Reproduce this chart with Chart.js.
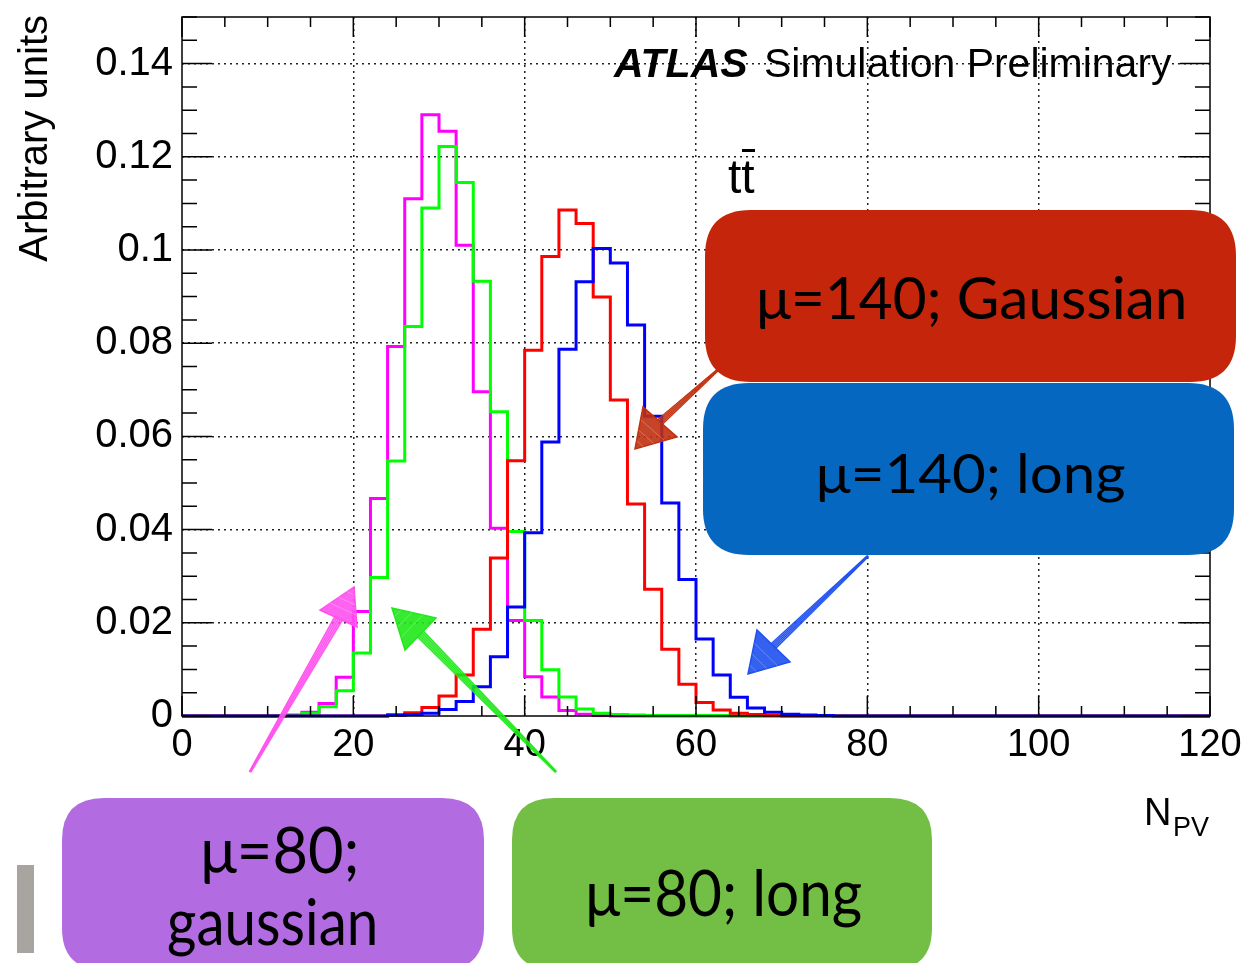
<!DOCTYPE html>
<html>
<head>
<meta charset="utf-8">
<title>N_PV</title>
<script src="https://cdn.jsdelivr.net/npm/chart.js@4.4.1/dist/chart.umd.min.js"></script>
<style>
  html, body { margin: 0; padding: 0; background: #fff; }
  canvas { display: block; }
</style>
</head>
<body>
<canvas id="npvChart" width="1247" height="963"></canvas>
<script>
// Histogrammen van N_PV, bins van 2 breed vanaf 0 tot 120
const binWidth = 2;

const mu80Gauss = [
  0, 0, 0, 0, 0, 0, 0.0002, 0.0008, 0.0027, 0.0083,
  0.0224, 0.0467, 0.0793, 0.111, 0.129, 0.1255, 0.101, 0.0696, 0.0403, 0.0205,
  0.0084, 0.0041, 0.0012, 0.0004, 0.0001, 0, 0, 0, 0, 0,
  0, 0, 0, 0, 0, 0, 0, 0, 0, 0,
  0, 0, 0, 0, 0, 0, 0, 0, 0, 0,
  0, 0, 0, 0, 0, 0, 0, 0, 0, 0
];
const mu80Long = [
  0, 0, 0, 0, 0, 0, 0.0001, 0.0006, 0.002, 0.0054,
  0.0135, 0.0297, 0.0547, 0.0836, 0.109, 0.1222, 0.1145, 0.0933, 0.0653, 0.0396,
  0.0205, 0.0099, 0.0041, 0.0015, 0.0006, 0.0003, 0.0002, 0.0001, 0.0001, 0.0001,
  0.0001, 0.0001, 0, 0, 0, 0, 0, 0, 0, 0,
  0, 0, 0, 0, 0, 0, 0, 0, 0, 0,
  0, 0, 0, 0, 0, 0, 0, 0, 0, 0
];
const mu140Gauss = [
  0, 0, 0, 0, 0, 0, 0, 0, 0, 0,
  0, 0, 0.0002, 0.0007, 0.0018, 0.0043, 0.0088, 0.0186, 0.0339, 0.0548,
  0.0785, 0.0986, 0.1086, 0.1057, 0.0899, 0.0678, 0.0455, 0.0272, 0.0143, 0.0068,
  0.0029, 0.0013, 0.0006, 0.0003, 0.0001, 0, 0, 0, 0, 0,
  0, 0, 0, 0, 0, 0, 0, 0, 0, 0,
  0, 0, 0, 0, 0, 0, 0, 0, 0, 0
];
const mu140Long = [
  0, 0, 0, 0, 0, 0, 0, 0, 0, 0,
  0, 0, 0.0002, 0.0003, 0.0006, 0.0014, 0.0031, 0.0063, 0.0127, 0.0234,
  0.0393, 0.0588, 0.0787, 0.0932, 0.1003, 0.0972, 0.0839, 0.0643, 0.0457, 0.0293,
  0.0165, 0.0088, 0.004, 0.0017, 0.0008, 0.0004, 0.0002, 0.0001, 0, 0,
  0, 0, 0, 0, 0, 0, 0, 0, 0, 0,
  0, 0, 0, 0, 0, 0, 0, 0, 0, 0
];

const xTicks = [0, 20, 40, 60, 80, 100, 120];
const yTicks = [0, 0.02, 0.04, 0.06, 0.08, 0.1, 0.12, 0.14];

// Punten op de linker binrand, laatste punt sluit de laatste bin af
function histPoints(values) {
  const pts = values.map((v, i) => ({ x: i * binWidth, y: v }));
  pts.push({ x: values.length * binWidth, y: values[values.length - 1] });
  return pts;
}

function histSet(label, values, color) {
  return {
    label: label,
    data: histPoints(values),
    borderColor: color,
    borderWidth: 3,
    stepped: 'before',
    pointRadius: 0,
    fill: false,
    clip: false
  };
}

// Tekst tussen twee x-randen passen (horizontaal geschaald)
function fitText(ctx, text, x0, x1, base, font) {
  ctx.save();
  ctx.font = font;
  ctx.textAlign = 'left';
  ctx.textBaseline = 'alphabetic';
  const m = ctx.measureText(text);
  const w = m.actualBoundingBoxLeft + m.actualBoundingBoxRight;
  ctx.translate(x0, base);
  ctx.scale((x1 - x0) / w, 1);
  ctx.fillText(text, m.actualBoundingBoxLeft, 0);
  ctx.restore();
}

function roundBox(ctx, x, y, w, h, r, color) {
  ctx.save();
  ctx.fillStyle = color;
  ctx.beginPath();
  ctx.moveTo(x + r, y);
  ctx.lineTo(x + w - r, y);
  ctx.quadraticCurveTo(x + w, y, x + w, y + r);
  ctx.lineTo(x + w, y + h - r);
  ctx.quadraticCurveTo(x + w, y + h, x + w - r, y + h);
  ctx.lineTo(x + r, y + h);
  ctx.quadraticCurveTo(x, y + h, x, y + h - r);
  ctx.lineTo(x, y + r);
  ctx.quadraticCurveTo(x, y, x + r, y);
  ctx.closePath();
  ctx.fill();
  ctx.restore();
}

// Geschetste pijl: taps toelopende schacht en een driehoekige punt
function sketchArrow(ctx, a) {
  const [tx, ty] = a.tail;
  const [p1, p2, tip] = a.head;
  const bx = (p1[0] + p2[0]) / 2, by = (p1[1] + p2[1]) / 2;
  const dx = bx - tx, dy = by - ty, len = Math.hypot(dx, dy);
  const nx = -dy / len, ny = dx / len;
  ctx.save();
  ctx.fillStyle = a.color;
  ctx.strokeStyle = a.color;
  ctx.globalAlpha = 0.75;
  ctx.beginPath();
  ctx.moveTo(tx + nx * 1.5, ty + ny * 1.5);
  ctx.lineTo(bx + nx * a.width, by + ny * a.width);
  ctx.lineTo(bx - nx * a.width, by - ny * a.width);
  ctx.lineTo(tx - nx * 1.5, ty - ny * 1.5);
  ctx.closePath();
  ctx.fill();
  ctx.globalAlpha = 1;
  ctx.lineWidth = 1;
  [-0.8, -0.4, 0, 0.4, 0.8].forEach(f => {
    ctx.beginPath();
    ctx.moveTo(tx + nx * f, ty + ny * f);
    ctx.lineTo(bx + nx * f * a.width, by + ny * f * a.width);
    ctx.stroke();
  });
  ctx.globalAlpha = 0.9;
  ctx.beginPath();
  ctx.moveTo(p1[0], p1[1]);
  ctx.lineTo(tip[0], tip[1]);
  ctx.lineTo(p2[0], p2[1]);
  ctx.closePath();
  ctx.fill();
  ctx.globalAlpha = 1;
  ctx.lineWidth = 1.5;
  ctx.stroke();
  ctx.globalAlpha = 0.25;
  ctx.strokeStyle = '#fff';
  ctx.lineWidth = 1;
  [0.3, 0.55, 0.8].forEach(f => {
    ctx.beginPath();
    ctx.moveTo(p1[0] + (tip[0] - p1[0]) * f, p1[1] + (tip[1] - p1[1]) * f);
    ctx.lineTo(p2[0] + (tip[0] - p2[0]) * f, p2[1] + (tip[1] - p2[1]) * f);
    ctx.stroke();
  });
  ctx.restore();
}

// Kader met ticks aan de binnenkant, zoals in ROOT
const kader = {
  id: 'kader',
  afterDatasetsDraw(chart) {
    const { ctx, chartArea: a, scales: { x, y } } = chart;
    ctx.save();
    ctx.strokeStyle = '#000';
    ctx.lineWidth = 1.5;
    ctx.beginPath();
    for (let v = 0; v <= 120; v += 5) {
      const px = x.getPixelForValue(v);
      const len = v % 20 === 0 ? 20 : 10;
      ctx.moveTo(px, a.bottom); ctx.lineTo(px, a.bottom - len);
      ctx.moveTo(px, a.top); ctx.lineTo(px, a.top + len);
    }
    for (let k = 0; k <= 30; k++) {
      const py = y.getPixelForValue(k * 0.005);
      const len = k % 4 === 0 ? 30 : 15;
      ctx.moveTo(a.left, py); ctx.lineTo(a.left + len, py);
      ctx.moveTo(a.right, py); ctx.lineTo(a.right - len, py);
    }
    ctx.stroke();
    ctx.strokeRect(a.left, a.top, a.right - a.left, a.bottom - a.top);
    ctx.restore();
  }
};

// Teksten, pijlen en gekleurde labels over de grafiek
const labels = {
  id: 'labels',
  afterDraw(chart) {
    const ctx = chart.ctx;
    ctx.save();
    ctx.fillStyle = '#000';
    ctx.textBaseline = 'alphabetic';

    ctx.font = 'italic bold 41px "Liberation Sans"';
    ctx.fillText('ATLAS', 614, 77);
    fitText(ctx, 'Simulation Preliminary', 765, 1172, 77, '41px "Liberation Sans"');

    ctx.font = '48px "Liberation Sans"';
    ctx.fillText('tt', 728, 193);
    ctx.fillRect(742, 149, 13, 3);

    ctx.font = '38px "Liberation Sans"';
    ctx.fillText('N', 1144, 825);
    ctx.font = '27px "Liberation Sans"';
    ctx.fillText('PV', 1173, 836);

    ctx.save();
    ctx.translate(47, 15);
    ctx.rotate(-Math.PI / 2);
    ctx.textAlign = 'right';
    ctx.font = '40px "Liberation Sans"';
    ctx.fillText('Arbitrary units', 0, 0);
    ctx.restore();

    sketchArrow(ctx, { tail: [250, 772], head: [[320, 610], [357, 627], [354, 587]], color: '#FF50EE', width: 5 });
    sketchArrow(ctx, { tail: [556, 772], head: [[436, 618], [405, 650], [392, 608]], color: '#20E81A', width: 5 });
    sketchArrow(ctx, { tail: [720, 368], head: [[643, 407], [677, 437], [635, 449]], color: '#C0300F', width: 4 });
    sketchArrow(ctx, { tail: [868, 556], head: [[757, 630], [790, 662], [748, 674]], color: '#1F50F0', width: 4 });

    roundBox(ctx, 705, 210, 531, 172, 46, '#C5250A');
    roundBox(ctx, 703, 383, 531, 172, 46, '#0567C0');
    roundBox(ctx, 62, 798, 422, 172, 42, '#B36BE1');
    roundBox(ctx, 512, 798, 420, 172, 42, '#73BE44');

    ctx.fillStyle = '#000';
    fitText(ctx, 'μ=140; Gaussian', 760, 1184, 319, '58px Lato');
    fitText(ctx, 'μ=140; long', 819, 1125, 493, '55px Lato');
    fitText(ctx, 'μ=80;', 204, 356, 873, '64px Lato');
    fitText(ctx, 'gaussian', 168, 375, 945, '64px Lato');
    fitText(ctx, 'μ=80; long', 589, 861, 916, '64px Lato');

    ctx.fillStyle = '#A8A49F';
    ctx.fillRect(17, 865, 17, 88);
    ctx.restore();
  }
};

const gridColor = edges => c => (c.tick && edges.includes(c.tick.value)) ? 'rgba(0,0,0,0)' : '#222';

new Chart(document.getElementById('npvChart').getContext('2d'), {
  type: 'line',
  data: {
    datasets: [
      histSet('μ=140; long', mu140Long, '#0000FF'),
      histSet('μ=140; Gaussian', mu140Gauss, '#FF0000'),
      histSet('μ=80; long', mu80Long, '#00FF00'),
      histSet('μ=80; gaussian', mu80Gauss, '#FF00FF')
    ]
  },
  options: {
    responsive: false,
    animation: false,
    layout: { padding: { left: 0, top: 17, right: 37, bottom: 0 } },
    plugins: {
      legend: { display: false },
      tooltip: { enabled: false }
    },
    scales: {
      x: {
        type: 'linear',
        min: 0,
        max: 120,
        afterBuildTicks: s => { s.ticks = xTicks.map(v => ({ value: v })); },
        afterFit: s => { s.height = 247; s.paddingLeft = 0; s.paddingRight = 0; },
        grid: { color: gridColor([0, 120]), lineWidth: 1.5, drawTicks: false },
        border: { display: false, dash: [2, 4] },
        ticks: {
          padding: 7,
          color: '#000',
          maxRotation: 0,
          autoSkip: false,
          font: { family: 'Liberation Sans', size: 38 },
          callback: v => String(v)
        }
      },
      y: {
        type: 'linear',
        min: 0,
        max: 0.15,
        afterBuildTicks: s => { s.ticks = yTicks.map(v => ({ value: v })); },
        afterFit: s => { s.width = 182; s.paddingTop = 0; s.paddingBottom = 0; },
        grid: { color: gridColor([0]), lineWidth: 1.5, drawTicks: false },
        border: { display: false, dash: [2, 4] },
        ticks: {
          padding: 9,
          color: '#000',
          autoSkip: false,
          font: { family: 'Liberation Sans', size: 40 },
          callback: v => String(parseFloat(v.toFixed(3)))
        }
      }
    }
  },
  plugins: [kader, labels]
});
</script>
</body>
</html>
